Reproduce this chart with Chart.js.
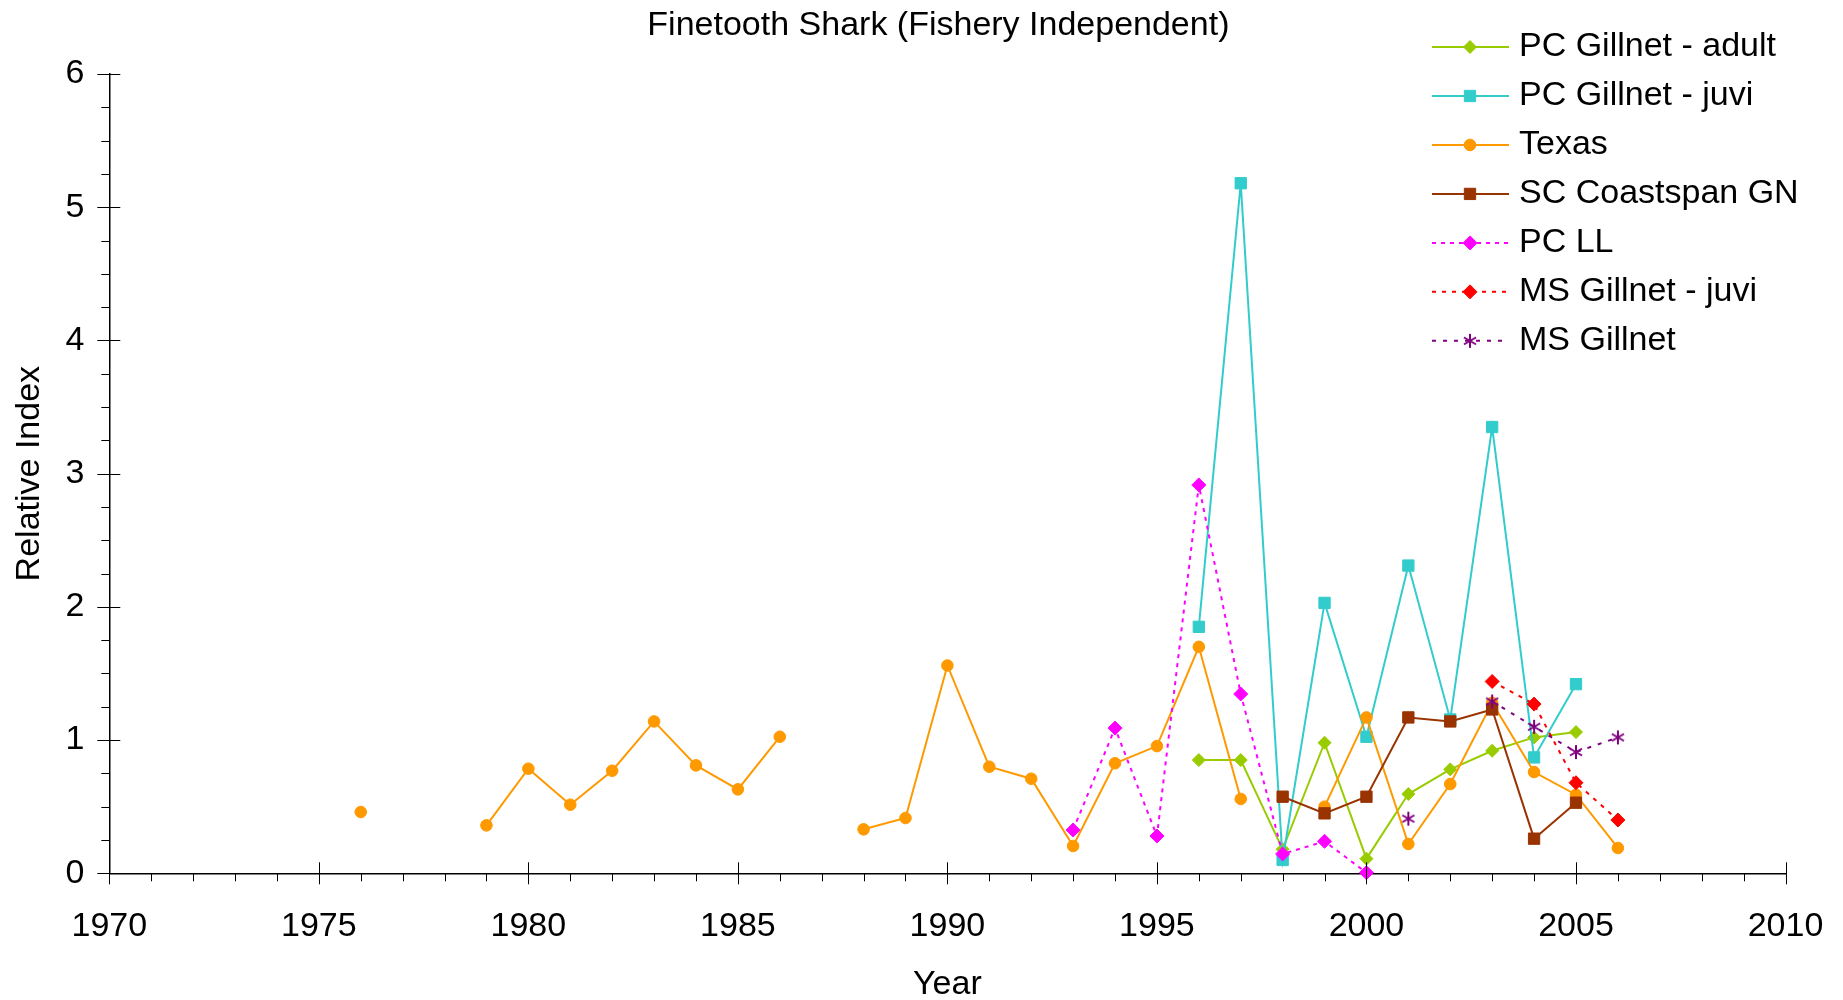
<!DOCTYPE html>
<html>
<head>
<meta charset="utf-8">
<script src="https://cdn.jsdelivr.net/npm/chart.js@4.4.1/dist/chart.umd.min.js"></script>
<style>
html,body{margin:0;padding:0;background:#ffffff;}
#wrap{width:1843px;height:1000px;position:relative;}
</style>
</head>
<body>
<div id="wrap"><canvas id="c" width="1843" height="1000"></canvas></div>
<script>
// ---------- DATA ----------
const years = [1976,1977,1978,1979,1980,1981,1982,1983,1984,1985,1986,1987,1988,1989,1990,
               1991,1992,1993,1994,1995,1996,1997,1998,1999,2000,2001,2002,2003,2004,2005,2006];
const seriesNames = ["PC Gillnet - adult","PC Gillnet - juvi","Texas","SC Coastspan GN","PC LL","MS Gillnet - juvi","MS Gillnet"];
const chartTitle = "Finetooth Shark (Fishery Independent)";

// values per series, listed from the series' first year (null = no survey that year)
const pcGillnetAdultStart = 1996;
const pcGillnetAdult = [0.85,0.85,0.18,0.98,0.11,0.595,0.78,0.92,1.02,1.06];
const pcGillnetJuviStart = 1996;
const pcGillnetJuvi = [1.85,5.18,0.10,2.03,1.025,2.31,1.155,3.35,0.87,1.42];
const texasStart = 1976;
const texas = [0.46,null,null,0.36,0.785,0.515,0.77,1.14,0.81,0.63,1.025,null,0.33,0.415,1.56,
               0.80,0.71,0.205,0.826,0.955,1.70,0.558,null,0.50,1.17,0.22,0.67,1.28,0.76,0.59,0.19];
const scCoastspanStart = 1998;
const scCoastspan = [0.575,0.45,0.575,1.17,1.14,1.23,0.26,0.53];
const pcLLStart = 1993;
const pcLL = [0.325,1.09,0.28,2.915,1.346,0.145,0.24,0.005];
const msGillnetJuviStart = 2003;
const msGillnetJuvi = [1.44,1.27,0.68,0.40];
const msGillnetStart = 2001;
const msGillnet = [0.41,null,1.29,1.10,0.91,1.02];

const xTickLabels = ["1970","1975","1980","1985","1990","1995","2000","2005","2010"];
const yTickLabels = ["0","1","2","3","4","5","6"];

// ---------- helpers ----------
function align(start, vals){
  return years.map(yr => {
    const k = yr - start;
    const v = (k >= 0 && k < vals.length) ? vals[k] : null;
    return {x: yr, y: v};
  });
}

function makeAsterisk(color, size){
  const c = document.createElement('canvas');
  c.width = size; c.height = size;
  const g = c.getContext('2d');
  g.strokeStyle = color; g.lineWidth = 2; g.lineCap = 'butt';
  const m = size/2, r = size/2 - 1;
  g.beginPath();
  g.moveTo(m, m - r); g.lineTo(m, m + r);
  const dx = r*Math.cos(Math.PI/6), dy = r*Math.sin(Math.PI/6);
  g.moveTo(m - dx, m - dy); g.lineTo(m + dx, m + dy);
  g.moveTo(m - dx, m + dy); g.lineTo(m + dx, m - dy);
  g.stroke();
  return c;
}
const asterisk = makeAsterisk('#800080', 16);

const FONT = '"Liberation Sans", Arial, Helvetica, sans-serif';
const FS = 34;

const styles = [
  {color:'#99CC00', pointStyle:'rectRot', radius:6.5, dash:[]},
  {color:'#33CCCC', pointStyle:'rect', radius:8, dash:[]},
  {color:'#FF9900', pointStyle:'circle', radius:5.8, dash:[]},
  {color:'#993300', pointStyle:'rect', radius:8, dash:[]},
  {color:'#FF00FF', pointStyle:'rectRot', radius:7, dash:[4,5]},
  {color:'#FF0000', pointStyle:'rectRot', radius:7, dash:[4,6]},
  {color:'#800080', pointStyle:asterisk, radius:8, dash:[4,7]}
];

const seriesData = [
  align(pcGillnetAdultStart, pcGillnetAdult),
  align(pcGillnetJuviStart, pcGillnetJuvi),
  align(texasStart, texas),
  align(scCoastspanStart, scCoastspan),
  align(pcLLStart, pcLL),
  align(msGillnetJuviStart, msGillnetJuvi),
  align(msGillnetStart, msGillnet)
];

const datasets = seriesNames.map((name, i) => ({
  label: name,
  data: seriesData[i],
  borderColor: styles[i].color,
  backgroundColor: styles[i].color,
  borderWidth: 2,
  borderDash: styles[i].dash,
  pointStyle: styles[i].pointStyle,
  pointRadius: styles[i].radius,
  pointHoverRadius: styles[i].radius,
  pointBorderWidth: 1,
  pointBorderColor: styles[i].color,
  pointBackgroundColor: styles[i].color,
  tension: 0,
  spanGaps: false,
  clip: false,
  order: seriesNames.length - i
}));

// ---------- plugins ----------
const axisTicks = {
  id: 'axisTicks',
  afterDraw(chart){
    const {ctx, chartArea: ca, scales: {x, y}} = chart;
    ctx.save();
    ctx.strokeStyle = '#000';
    ctx.lineWidth = 1;
    ctx.beginPath();
    for (let yr = x.min; yr <= x.max; yr++){
      const px = Math.round(x.getPixelForValue(yr)) + 0.5;
      if (yr % 5 === 0){ ctx.moveTo(px, ca.bottom - 11); ctx.lineTo(px, ca.bottom + 11); }
      else { ctx.moveTo(px, ca.bottom); ctx.lineTo(px, ca.bottom + 8); }
    }
    for (let v = y.min; v <= y.max + 1e-9; v += 0.25){
      const py = Math.round(y.getPixelForValue(v)) + 0.5;
      if (Math.abs(v - Math.round(v)) < 1e-9){ ctx.moveTo(ca.left - 12, py); ctx.lineTo(ca.left + 11, py); }
      else { ctx.moveTo(ca.left - 8, py); ctx.lineTo(ca.left, py); }
    }
    ctx.stroke();
    ctx.restore();
  }
};

const titleAndLegend = {
  id: 'titleAndLegend',
  afterDraw(chart){
    const ctx = chart.ctx;
    const ca = chart.chartArea;
    ctx.save();
    // title
    ctx.fillStyle = '#000';
    ctx.font = FS + 'px ' + FONT;
    ctx.textBaseline = 'middle';
    ctx.textAlign = 'center';
    ctx.fillText(chartTitle, (ca.left + ca.right) / 2 - 9, 26);
    // legend
    const x0 = 1432, x1 = 1509, xm = 1470, xt = 1519, y0 = 47, dy = 48.97;
    chart.data.datasets.forEach((ds, i) => {
      const yy = y0 + i*dy;
      ctx.save();
      ctx.strokeStyle = ds.borderColor;
      ctx.lineWidth = ds.borderWidth;
      ctx.setLineDash(ds.borderDash || []);
      ctx.beginPath(); ctx.moveTo(x0, yy); ctx.lineTo(x1, yy); ctx.stroke();
      ctx.setLineDash([]);
      ctx.fillStyle = ds.pointBackgroundColor;
      ctx.strokeStyle = ds.pointBorderColor;
      ctx.lineWidth = 1;
      Chart.helpers.drawPoint(ctx, {pointStyle: ds.pointStyle, radius: ds.pointRadius, rotation: 0, borderWidth: 1}, xm, yy);
      ctx.restore();
      ctx.fillStyle = '#000';
      ctx.font = FS + 'px ' + FONT;
      ctx.textBaseline = 'middle';
      ctx.textAlign = 'left';
      ctx.fillText(ds.label, xt, yy);
    });
    ctx.restore();
  }
};

// ---------- chart ----------
Chart.defaults.font.family = FONT;
Chart.defaults.color = '#000';

const opts = {
  responsive: false,
  animation: false,
  devicePixelRatio: 1,
  layout: { padding: { left: 0, right: 19, top: 54, bottom: 0 } },
  plugins: {
    legend: { display: false },
    tooltip: { enabled: false },
    title: { display: false }
  },
  scales: {
    x: {
      type: 'linear',
      min: 1970, max: 2010,
      grid: { display: false, drawTicks: true, tickLength: 33 },
      border: { display: true, color: '#000', width: 1.5 },
      ticks: {
        stepSize: 5, autoSkip: false, maxRotation: 0, padding: 0,
        font: { size: FS, family: FONT }, color: '#000',
        callback: (v) => { const k = xTickLabels.indexOf(String(v)); return k >= 0 ? xTickLabels[k] : ''; }
      },
      title: { display: true, text: 'Year', font: { size: FS, family: FONT }, color: '#000', padding: { top: 0, bottom: -5.4 } },
      afterFit(scale){ scale.height = 126.7; }
    },
    y: {
      min: 0, max: 6,
      grid: { display: false, drawTicks: false },
      border: { display: true, color: '#000', width: 1.5 },
      ticks: {
        stepSize: 1, padding: 25,
        font: { size: FS, family: FONT }, color: '#000',
        callback: (v) => { const k = yTickLabels.indexOf(String(v)); return k >= 0 ? yTickLabels[k] : ''; }
      },
      title: { display: true, text: 'Relative Index', font: { size: FS, family: FONT }, color: '#000', padding: { top: 9.5, bottom: 0 } },
      afterFit(scale){ scale.width = 109.3; }
    }
  }
};

const chart = new Chart(document.getElementById('c'), {
  type: 'line',
  data: { datasets },
  options: opts,
  plugins: [axisTicks, titleAndLegend]
});

// fine-tune the plot area to the reference frame (left 109.3, right 1785.5, top 74)
for (let pass = 0; pass < 3; pass++){
  const ca = chart.chartArea;
  opts.layout.padding.right = Math.max(0, opts.layout.padding.right + (ca.right - 1785.5));
  opts.layout.padding.top = Math.max(0, opts.layout.padding.top + (74 - ca.top));
  chart.options = opts;
  chart.update('none');
}
</script>
</body>
</html>
